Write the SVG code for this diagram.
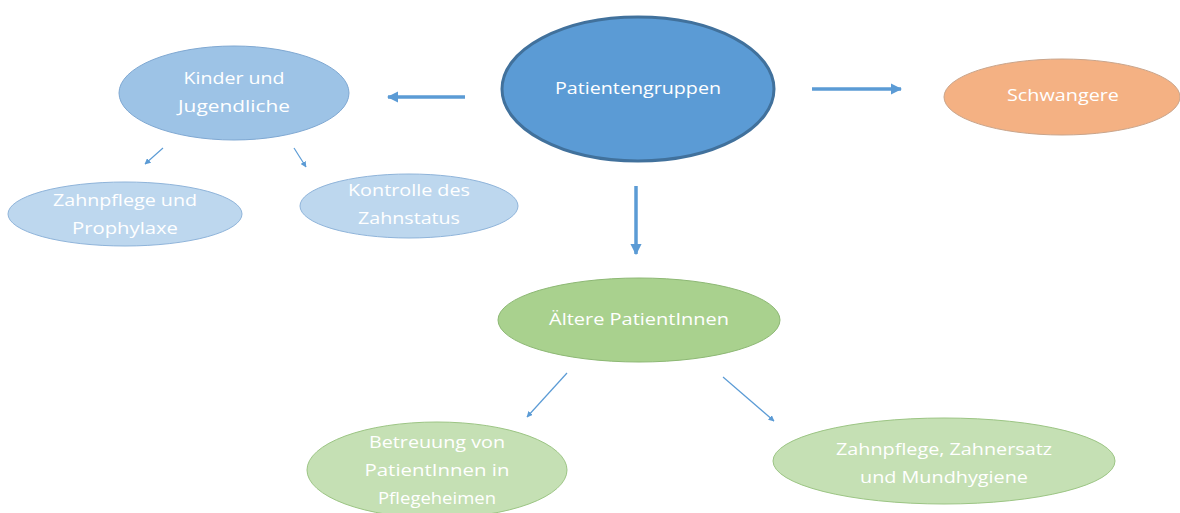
<svg xmlns="http://www.w3.org/2000/svg" width="1180" height="513" viewBox="0 0 1180 513">
<defs>
<style>
.t{font-family:"Open Sans","DejaVu Sans",sans-serif;font-size:17px;fill:#ffffff;text-anchor:middle}
.thick{stroke:#5B9BD5;stroke-width:3.5;fill:none}
.thin{stroke:#5B9BD5;stroke-width:1.2;fill:none}
</style>
<marker id="ah" viewBox="0 0 10 10" refX="9" refY="5" markerWidth="3.2" markerHeight="3.2" orient="auto" markerUnits="strokeWidth"><path d="M0,0 L10,5 L0,10 z" fill="#5B9BD5"/></marker>
<marker id="ahs" viewBox="0 0 10 10" refX="9" refY="5" markerWidth="5" markerHeight="5" orient="auto" markerUnits="strokeWidth"><path d="M0,0 L10,5 L0,10 z" fill="#5B9BD5"/></marker>
</defs>
<rect width="1180" height="513" fill="#ffffff"/>
<g id="connectors">
<line class="thick" x1="465" y1="97" x2="388" y2="97" marker-end="url(#ah)"/>
<line class="thick" x1="812" y1="89" x2="901" y2="89" marker-end="url(#ah)"/>
<line class="thick" x1="636" y1="186" x2="636" y2="254" marker-end="url(#ah)"/>
<line class="thin" x1="163" y1="148" x2="145" y2="164" marker-end="url(#ahs)"/>
<line class="thin" x1="294" y1="148" x2="306" y2="167" marker-end="url(#ahs)"/>
<line class="thin" x1="567" y1="373" x2="527" y2="417" marker-end="url(#ahs)"/>
<line class="thin" x1="723" y1="377" x2="774" y2="421" marker-end="url(#ahs)"/>
</g>
<g id="patientengruppen">
<ellipse cx="638" cy="89" rx="136" ry="72" fill="#5B9BD5" stroke="#41719C" stroke-width="3"/>
<text class="t" x="638" y="94" textLength="166" lengthAdjust="spacingAndGlyphs">Patientengruppen</text>
</g>
<g id="schwangere">
<ellipse cx="1062" cy="97" rx="118" ry="38" fill="#F4B183" stroke="#C9A48A" stroke-width="1"/>
<text class="t" x="1063" y="101" textLength="112" lengthAdjust="spacingAndGlyphs">Schwangere</text>
</g>
<g id="kinder">
<ellipse cx="234" cy="93" rx="115" ry="47" fill="#9DC3E6" stroke="#7FA8D2" stroke-width="1"/>
<text class="t" x="234" y="84" textLength="101" lengthAdjust="spacingAndGlyphs">Kinder und</text>
<text class="t" x="234" y="112" textLength="112" lengthAdjust="spacingAndGlyphs">Jugendliche</text>
</g>
<g id="zahnpflege-prophylaxe">
<ellipse cx="125" cy="214" rx="117" ry="32" fill="#BDD7EE" stroke="#8FB4DA" stroke-width="1"/>
<text class="t" x="125" y="206" textLength="144" lengthAdjust="spacingAndGlyphs">Zahnpflege und</text>
<text class="t" x="125" y="234" textLength="106" lengthAdjust="spacingAndGlyphs">Prophylaxe</text>
</g>
<g id="kontrolle">
<ellipse cx="409" cy="206" rx="109" ry="32" fill="#BDD7EE" stroke="#8FB4DA" stroke-width="1"/>
<text class="t" x="409" y="196" textLength="122" lengthAdjust="spacingAndGlyphs">Kontrolle des</text>
<text class="t" x="409" y="224" textLength="102" lengthAdjust="spacingAndGlyphs">Zahnstatus</text>
</g>
<g id="aeltere">
<ellipse cx="639" cy="320" rx="141" ry="42" fill="#A9D18E" stroke="#8DB874" stroke-width="1"/>
<text class="t" x="639" y="325" textLength="180" lengthAdjust="spacingAndGlyphs">Ältere PatientInnen</text>
</g>
<g id="betreuung">
<ellipse cx="437" cy="470" rx="130" ry="48" fill="#C5E0B4" stroke="#9CC584" stroke-width="1"/>
<text class="t" x="437" y="448" textLength="136" lengthAdjust="spacingAndGlyphs">Betreuung von</text>
<text class="t" x="437" y="476" textLength="145" lengthAdjust="spacingAndGlyphs">PatientInnen in</text>
<text class="t" x="437" y="504" textLength="118" lengthAdjust="spacingAndGlyphs">Pflegeheimen</text>
</g>
<g id="zahnersatz">
<ellipse cx="944" cy="461" rx="171" ry="43" fill="#C5E0B4" stroke="#9CC584" stroke-width="1"/>
<text class="t" x="944" y="455" textLength="216" lengthAdjust="spacingAndGlyphs">Zahnpflege, Zahnersatz</text>
<text class="t" x="944" y="483" textLength="168" lengthAdjust="spacingAndGlyphs">und Mundhygiene</text>
</g>
</svg>
